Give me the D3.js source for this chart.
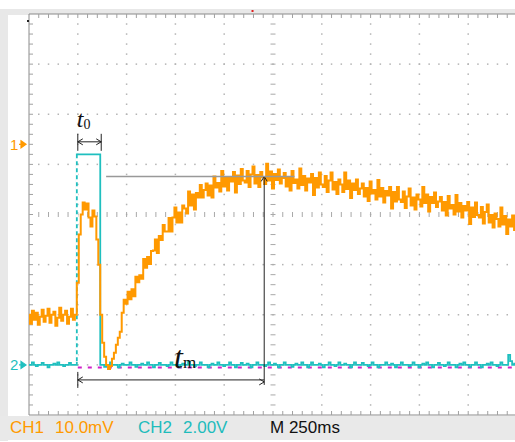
<!DOCTYPE html>
<html>
<head>
<meta charset="utf-8">
<script src="https://cdn.jsdelivr.net/npm/d3@7"></script>
<style>
	body { margin: 0; background: #fff; }
	svg { display: block; font-family: "Liberation Sans", Arial, sans-serif; }
</style>
</head>
<body>
<div id="scope"></div>
<script>
// scope settings
var msPerDiv = 250,
	mVPerDiv = 10,
	vPerDiv = 2,
	ch1Ground = 5.4,	// divisions above the bottom edge
	ch2Ground = 1,
	sampleMs = 10;

// CH1 (orange) samples, mV, one every sampleMs from 0 ms
var ch1mV = [
	// 0 - 240 ms
	-34.0, -35.8, -33.2, -35.0, -33.6, -36.0, -34.4, -33.0, -35.4, -34.2,
	-32.8, -35.6, -34.0, -33.4, -36.2, -34.6, -32.6, -35.2, -34.0, -33.2,
	-35.8, -34.4, -32.8, -35.0, -34.0,
	// 250 - 500 ms
	-27.6, -18.0, -14.0, -11.6, -13.0, -11.8, -14.6, -16.4, -13.2, -14.4,
	-19.0, -24.0, -34.0, -39.6, -42.4, -44.0, -44.8, -44.2, -42.8, -41.6,
	-40.0, -38.6, -37.4, -33.6, -31.0, -31.8,
	// 510 ms onwards
	-29.4, -30.9, -28.9, -30.3, -26.4, -27.5, -26.1, -26.8, -22.9, -24.6,
	-22.5, -23.9, -21.3, -21.2, -19.0, -21.7, -18.3, -19.1, -16.1, -17.4,
	-17.4, -14.7, -17.4, -14.6, -12.6, -15.6, -13.6, -15.6, -12.2, -12.8,
	-13.8, -9.4, -12.2, -10.0, -13.0, -9.7, -10.6, -8.1, -10.6, -9.1,
	-7.8, -10.2, -8.2, -10.6, -6.4, -8.6, -7.7, -9.4, -5.3, -8.4,
	-6.5, -9.2, -6.7, -7.4, -5.5, -9.6, -6.2, -7.9, -4.9, -7.2,
	-7.6, -5.3, -8.5, -6.0, -4.4, -7.8, -6.1, -8.5, -5.5, -6.5,
	-7.9, -3.9, -7.2, -5.4, -8.8, -5.9, -7.1, -5.0, -7.8, -6.7,
	-5.7, -8.4, -6.6, -9.2, -5.3, -7.7, -7.0, -8.8, -4.8, -8.1,
	-6.3, -9.2, -6.8, -7.6, -5.9, -10.1, -6.7, -8.6, -5.6, -8.0,
	-8.5, -6.3, -9.5, -7.2, -5.6, -9.0, -7.5, -9.9, -7.0, -8.0,
	-9.5, -5.6, -8.9, -7.2, -10.7, -7.8, -9.1, -7.0, -9.9, -8.8,
	-7.8, -10.4, -8.7, -11.3, -7.4, -9.8, -9.1, -11.0, -7.1, -10.4,
	-8.7, -11.6, -9.3, -10.2, -8.5, -12.8, -9.5, -11.4, -8.5, -11.0,
	-11.5, -9.4, -12.7, -10.4, -8.8, -12.2, -10.6, -13.0, -10.0, -11.0,
	-12.4, -8.5, -11.7, -10.0, -13.4, -10.5, -11.7, -9.6, -12.5, -11.4,
	-10.5, -13.2, -11.5, -14.2, -10.3, -12.8, -12.1, -14.0, -10.1, -13.4,
	-11.7, -14.6, -12.3, -13.2, -11.5, -15.9, -12.6, -14.5, -11.6, -14.1,
	-14.6, -12.5, -15.8, -13.5, -12.0, -15.6, -14.1, -16.6, -13.8, -14.9,
	-16.4, -12.6, -16.0, -14.3, -17.9, -15.0, -16.4, -14.2, -17.1, -16.0
];

// CH2 (cyan) samples, V
var ch2V = [
	// 0 - 240 ms
	0, 0, 0.1, 0, -0.05, 0, 0, 0.08, 0, 0,
	-0.1, 0, 0, 0.05, 0, 0.1, 0, 0, -0.05, 0,
	0, 0.08, 0, 0, 0,
	// 250 - 360 ms: stimulus pulse
	8.4, 8.4, 8.4, 8.4, 8.4, 8.4, 8.4, 8.4, 8.4, 8.4, 8.4, 8.4,
	// 370 - 500 ms
	0, 0, -0.08, 0, 0, 0.1, 0, 0, 0, -0.1, 0, 0.05, 0, 0,
	// 510 ms onwards
	0, 0.1, 0, 0, -0.08, 0, 0, 0.05, 0, 0,
	0.1, 0, 0, -0.1, 0, 0, 0.08, 0, 0, 0,
	-0.05, 0, 0.1, 0, 0, 0, -0.1, 0, 0.05, 0,
	0, 0.12, 0, 0, -0.05, 0, 0, 0.1, 0, 0,
	0, -0.1, 0, 0.05, 0, 0, 0.1, 0, 0, -0.05,
	0, 0, 0.1, 0, 0, -0.1, 0, 0, 0.08, 0,
	0, 0.05, 0, -0.1, 0, 0, 0.1, 0, 0, 0,
	-0.05, 0, 0.1, 0, 0, 0.05, 0, -0.1, 0, 0,
	0.1, 0, 0, 0, -0.08, 0, 0.05, 0, 0, 0.1,
	0, 0, -0.1, 0, 0.1, 0, 0, 0, 0.05, 0,
	-0.1, 0, 0, 0.1, 0, 0, -0.05, 0, 0.1, 0,
	0, 0.05, 0, 0, -0.1, 0, 0.1, 0, 0, 0,
	0.08, 0, 0, -0.05, 0, 0.1, 0, 0, -0.1, 0,
	0, 0, 0.1, 0, 0, 0.05, 0, -0.1, 0, 0,
	0.1, 0, 0, 0, -0.05, 0, 0.1, 0, 0, -0.1,
	0, 0.05, 0, 0.1, 0, 0, -0.1, 0, 0, 0.08,
	0, 0, -0.05, 0, 0.1, 0, 0, 0, -0.1, 0,
	0.05, 0, 0.1, 0, 0, -0.08, 0, 0, 0.1, 0,
	0, -0.1, 0, 0, 0.05, 0, 0.1, 0, 0, -0.05,
	0, 0.1, 0, 0, 0, 0.4, 0.15, 0, 0.05, 0
];

// math trace (magenta), drawn under the CH2 baseline
var mathMs = [250, 2500],
	mathV = [-0.06, -0.06];

// annotations
var pulseMs = [250, 370],
	peakMs = 1205,
	peakmV = -6.4,
	refLineMs = [395, 1360],
	t0ArrowV = 8.9,
	tmArrowV = -0.6;

// status bar
var statusItems = [
	{ text: "CH1", x: 10, color: "#ff9a00" },
	{ text: "10.0mV", x: 55, color: "#ff9a00" },
	{ text: "CH2", x: 138, color: "#1fbcbc" },
	{ text: "2.00V", x: 183, color: "#1fbcbc" },
	{ text: "M 250ms", x: 270, color: "#111" }
];

var svgWidth = 515,
	svgHeight = 442,
	plot = { left: 29, top: 14, width: 488, height: 401 },
	orange = "#ff9900",
	cyan = "#1fbfbf",
	magenta = "#d020c8";

var xDiv = d3.scaleLinear().domain([0, 10]).range([plot.left, plot.left + plot.width]),
	yDiv = d3.scaleLinear().domain([0, 8]).range([plot.top + plot.height, plot.top]),
	x = d3.scaleLinear().domain([0, 10 * msPerDiv]).range(xDiv.range()),
	y1 = d3.scaleLinear()
		.domain([-ch1Ground * mVPerDiv, (8 - ch1Ground) * mVPerDiv])
		.range(yDiv.range()),
	y2 = d3.scaleLinear()
		.domain([-ch2Ground * vPerDiv, (8 - ch2Ground) * vPerDiv])
		.range(yDiv.range());

var svg = d3.select("#scope").append("svg")
	.attr("width", svgWidth)
	.attr("height", svgHeight);

// frame
svg.append("rect").attr("x", 0).attr("y", 0).attr("width", svgWidth).attr("height", svgHeight).attr("fill", "#fff");
svg.append("rect").attr("x", 0).attr("y", 9).attr("width", svgWidth).attr("height", 6).attr("fill", "#e8e8e8");
svg.append("rect").attr("x", 0).attr("y", 9).attr("width", 8).attr("height", 432).attr("fill", "#e8e8e8");
svg.append("rect").attr("x", 0).attr("y", 416).attr("width", svgWidth).attr("height", 24).attr("fill", "#e9e9e9");
svg.append("rect")
	.attr("x", plot.left).attr("y", plot.top)
	.attr("width", plot.width).attr("height", plot.height)
	.attr("fill", "#fff");

var grid = svg.append("g").attr("class", "grid");
var minorX = d3.range(0, 10.001, 0.2),
	minorY = d3.range(0, 8.001, 0.2);

// dotted graticule
[1, 2, 3, 4, 6, 7, 8, 9].forEach(function(i) {
	grid.selectAll(null)
		.data(minorY.slice(1, -1))
		.enter().append("rect")
		.attr("x", xDiv(i) - 0.75).attr("y", function(d) { return yDiv(d) - 0.75; })
		.attr("width", 1.5).attr("height", 1.5)
		.attr("fill", "#b4b4b4");
});
[1, 2, 3, 5, 6, 7].forEach(function(j) {
	grid.selectAll(null)
		.data(minorX.slice(1, -1))
		.enter().append("rect")
		.attr("x", function(d) { return xDiv(d) - 0.75; }).attr("y", yDiv(j) - 0.75)
		.attr("width", 1.5).attr("height", 1.5)
		.attr("fill", "#b4b4b4");
});

// centre axes with small ticks
grid.selectAll(null)
	.data(minorX.slice(1, -1))
	.enter().append("line")
	.attr("x1", function(d) { return xDiv(d); }).attr("x2", function(d) { return xDiv(d); })
	.attr("y1", yDiv(4) - 2.5).attr("y2", yDiv(4) + 2.5)
	.attr("stroke", "#a8a8a8");
grid.selectAll(null)
	.data(minorY.slice(1, -1))
	.enter().append("line")
	.attr("x1", xDiv(5) - 2.5).attr("x2", xDiv(5) + 2.5)
	.attr("y1", function(d) { return yDiv(d); }).attr("y2", function(d) { return yDiv(d); })
	.attr("stroke", "#a8a8a8");

// border and its ticks
grid.append("path")
	.attr("d", "M" + plot.left + "," + (plot.top + plot.height) + "V" + plot.top + "H" + (plot.left + plot.width) +
		"M" + plot.left + "," + (plot.top + plot.height) + "H" + (plot.left + plot.width))
	.attr("fill", "none")
	.attr("stroke", "#8a8a8a");
grid.selectAll(null)
	.data(minorX.slice(1, -1))
	.enter().append("path")
	.attr("d", function(d) {
		var px = xDiv(d);
		return "M" + px + "," + yDiv(8) + "v4M" + px + "," + yDiv(0) + "v-4";
	})
	.attr("stroke", "#a0a0a0");
grid.selectAll(null)
	.data(minorY.slice(1, -1))
	.enter().append("line")
	.attr("x1", xDiv(0)).attr("x2", xDiv(0) + 4)
	.attr("y1", function(d) { return yDiv(d); }).attr("y2", function(d) { return yDiv(d); })
	.attr("stroke", "#a0a0a0");

// little marks: trigger position and corner dot
svg.append("rect").attr("x", x(1140)).attr("y", 10).attr("width", 2).attr("height", 2).attr("fill", "#e02020");
svg.append("rect").attr("x", 27).attr("y", 20).attr("width", 2).attr("height", 2).attr("fill", "#222");

// traces
var traces = svg.append("g").attr("class", "traces");

traces.append("path")
	.datum(d3.zip(mathMs, mathV))
	.attr("d", d3.line()
		.x(function(d) { return x(d[0]); })
		.y(function(d) { return y2(d[1]) + 1; }))
	.attr("fill", "none")
	.attr("stroke", magenta)
	.attr("stroke-width", 2)
	.attr("stroke-dasharray", "4,6");

traces.append("path")
	.datum(ch2V)
	.attr("d", d3.line()
		.curve(d3.curveStep)
		.x(function(d, i) { return x(i * sampleMs); })
		.y(function(d) { return y2(d); }))
	.attr("fill", "none")
	.attr("stroke", cyan)
	.attr("stroke-width", 1.8);

// the fast rising edge shows up broken on the screen
var riseIdx = ch2V.findIndex(function(d) { return d > 4; }),
	riseX = x((riseIdx - 0.5) * sampleMs);
traces.append("line")
	.attr("x1", riseX).attr("x2", riseX)
	.attr("y1", y2(ch2V[riseIdx]) + 4).attr("y2", y2(0) - 3)
	.attr("stroke", "#fff")
	.attr("stroke-width", 2.5)
	.attr("stroke-dasharray", "3,4");

traces.append("path")
	.datum(ch1mV)
	.attr("d", d3.line()
		.curve(d3.curveStep)
		.x(function(d, i) { return x(i * sampleMs); })
		.y(function(d) { return y1(d); }))
	.attr("fill", "none")
	.attr("stroke", orange)
	.attr("stroke-width", 2);

// annotations
var ann = svg.append("g").attr("class", "annotations")
	.attr("fill", "none")
	.attr("stroke", "#222")
	.attr("stroke-width", 1);

function chevron(px, py, dir) {
	// open arrowhead whose tip is at (px, py)
	var s = 5;
	if (dir === "left") return "M" + (px + s) + "," + (py - s * 0.6) + "L" + px + "," + py + "L" + (px + s) + "," + (py + s * 0.6);
	if (dir === "right") return "M" + (px - s) + "," + (py - s * 0.6) + "L" + px + "," + py + "L" + (px - s) + "," + (py + s * 0.6);
	return "M" + (px - s * 0.6) + "," + (py + s) + "L" + px + "," + py + "L" + (px + s * 0.6) + "," + (py + s);
}

// t0
var t0y = y2(t0ArrowV),
	t0a = x(pulseMs[0]),
	t0b = x(pulseMs[1]);
ann.append("path")
	.attr("d", "M" + t0a + "," + (t0y - 8) + "V" + (t0y + 9) + "M" + t0b + "," + (t0y - 8) + "V" + (t0y + 9) +
		"M" + t0a + "," + t0y + "H" + t0b + chevron(t0a, t0y, "left") + chevron(t0b, t0y, "right"));

// reference level at the peak
svg.append("line")
	.attr("x1", x(refLineMs[0])).attr("x2", x(refLineMs[1]))
	.attr("y1", y1(peakmV)).attr("y2", y1(peakmV))
	.attr("stroke", "#999")
	.attr("stroke-width", 1.5);

// tm
var tmy = y2(tmArrowV),
	tma = x(pulseMs[0]),
	tmb = x(peakMs);
ann.append("path")
	.attr("d", "M" + tma + "," + (tmy - 8) + "V" + (tmy + 8) +
		"M" + tma + "," + tmy + "H" + tmb + chevron(tma, tmy, "left") + chevron(tmb, tmy + 2, "right") +
		"M" + tmb + "," + y1(peakmV) + "V" + (tmy + 5) + chevron(tmb, y1(peakmV), "up"));

var labels = svg.append("g")
	.attr("font-family", "'Liberation Serif', 'Times New Roman', serif")
	.attr("fill", "#111");

var t0Label = labels.append("text")
	.attr("x", t0a - 1)
	.attr("y", t0y - 15);
t0Label.append("tspan").attr("font-style", "italic").attr("font-size", 24).text("t");
t0Label.append("tspan").attr("font-size", 14).attr("dy", 2).text("0");

var tmLabel = labels.append("text")
	.attr("x", (tma + tmb) / 2 + 3)
	.attr("y", tmy - 12);
tmLabel.append("tspan").attr("font-style", "italic").attr("font-size", 32).text("t");
tmLabel.append("tspan").attr("font-size", 17).text("m");

// channel ground markers
var markers = svg.append("g");
[{ name: "1", level: y1(0), color: orange }, { name: "2", level: y2(0), color: cyan }].forEach(function(m) {
	markers.append("text")
		.attr("x", 10).attr("y", m.level + 5.5)
		.attr("font-size", 15)
		.attr("fill", m.color)
		.text(m.name);
	markers.append("path")
		.attr("d", "M19," + m.level + "H23M21," + (m.level - 3.5) + "L26," + m.level + "L21," + (m.level + 3.5) + "Z")
		.attr("fill", m.color)
		.attr("stroke", m.color)
		.attr("stroke-width", 1.2);
});

// status bar text
svg.append("g").selectAll("text")
	.data(statusItems)
	.enter().append("text")
	.attr("x", function(d) { return d.x; })
	.attr("y", 433)
	.attr("font-size", 17)
	.attr("fill", function(d) { return d.color; })
	.text(function(d) { return d.text; });
</script>
</body>
</html>
